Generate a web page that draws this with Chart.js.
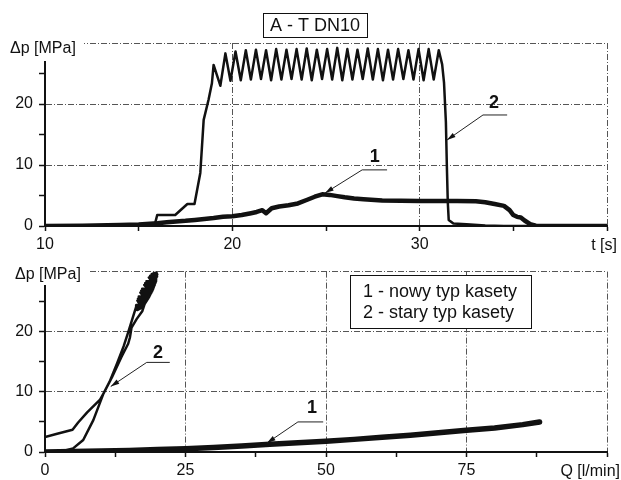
<!DOCTYPE html>
<html>
<head>
<meta charset="utf-8">
<script src="https://cdn.jsdelivr.net/npm/chart.js@4.4.1/dist/chart.umd.min.js"></script>
<style>
  html, body { margin: 0; padding: 0; background: #fff; }
  #wrap { position: relative; width: 621px; height: 480px; }
  canvas { position: absolute; left: 0; }
  #chart-top { top: 0; }
  #chart-bottom { top: 256px; }
</style>
</head>
<body>
<div id="wrap">
  <canvas id="chart-top" width="621" height="256"></canvas>
  <canvas id="chart-bottom" width="621" height="224"></canvas>
</div>
<script>
// top: pressure drop vs time
const TOP_T_RANGE = [10, 40];
const TOP_P_RANGE = [0, 30];

// 1 - nowy typ kasety
const TOP1_T = [10, 12, 14, 15, 16, 16.5, 17, 17.5, 18, 18.5, 19, 19.5, 20, 20.5, 21, 21.3, 21.6, 21.8, 21.95, 22.1, 22.5, 23, 23.5, 24, 24.4, 24.8, 25.2, 25.6, 26, 26.5, 27, 28, 29, 30, 31, 32, 33, 33.5, 34, 34.5, 34.8, 35.0, 35.2, 35.4, 35.6, 35.9, 36.2, 36.6, 40];
const TOP1_P = [0, 0.05, 0.15, 0.25, 0.45, 0.6, 0.75, 0.85, 1.0, 1.15, 1.3, 1.5, 1.6, 1.8, 2.1, 2.3, 2.6, 2.1, 2.5, 2.9, 3.2, 3.4, 3.7, 4.3, 4.8, 5.2, 5.1, 4.9, 4.7, 4.5, 4.4, 4.2, 4.15, 4.1, 4.1, 4.1, 4.05, 3.9, 3.6, 3.3, 2.6, 1.8, 1.5, 1.4, 0.9, 0.3, 0.05, 0, 0];

// 2 - stary typ kasety
const TOP2_T = [10, 15.85, 15.99, 16.95, 17.6, 17.98, 18.29, 18.47, 18.73, 18.91, 19.0, 19.36,
  19.63, 19.90, 20.17, 20.45, 20.72, 20.99, 21.26, 21.53, 21.80, 22.07, 22.34, 22.62, 22.89, 23.16,
  23.43, 23.70, 23.97, 24.24, 24.51, 24.79, 25.06, 25.33, 25.60, 25.87, 26.14, 26.41, 26.68, 26.96,
  27.23, 27.50, 27.77, 28.04, 28.31, 28.58, 28.85, 29.13, 29.40, 29.67, 29.94, 30.21, 30.48, 30.75,
  31.02, 31.2, 31.3, 31.4, 31.45, 31.5, 31.55, 31.8, 32.5, 33.5, 34.5, 40];
const TOP2_P = [0, 0.1, 1.8, 1.8, 3.6, 3.6, 8.7, 17.4, 20.7, 23.4, 26.4, 23.0,
  28.3, 23.8, 28.6, 23.9, 28.8, 24.0, 28.9, 24.1, 28.8, 23.9, 29.0, 24.0, 28.9, 24.1,
  29.0, 24.0, 29.1, 23.9, 28.9, 24.1, 29.0, 24.0, 29.2, 23.9, 29.0, 24.0, 28.9, 24.1,
  29.1, 24.0, 29.0, 23.9, 28.9, 24.0, 29.0, 24.1, 28.8, 24.0, 29.0, 23.9, 29.0, 24.0,
  28.8, 26.5, 23.5, 17, 10, 4, 1.0, 0.4, 0.3, 0.1, 0, 0];

// bottom: pressure drop vs flow
const BOT_Q_RANGE = [0, 100];
const BOT_P_RANGE = [0, 30];

const BOT1_Q = [0, 5, 10, 15, 20, 25, 30, 35, 40, 45, 50, 55, 60, 65, 70, 75, 80, 85, 88];
const BOT1_P = [0, 0.08, 0.15, 0.25, 0.4, 0.55, 0.75, 1.0, 1.3, 1.55, 1.8, 2.1, 2.45, 2.8, 3.2, 3.6, 4.0, 4.55, 5.0];

// rising branch, dense hysteresis loops near full pressure, falling branch
const BOT2_Q = [0, 2, 4.9, 5.9, 7.5, 9.8, 10.4, 11.5, 12.8, 14.0, 14.8, 15.7, 16.3,
  16.22, 17.48, 16.56, 18.35, 17.13, 19.07, 17.85, 19.64, 18.72, 19.98, 19.8,
  18.98, 19.76, 18.05, 19.22, 17.3, 18.54, 16.69, 17.72, 16.26, 16.4,
  17.22, 16.44, 18.15, 16.98, 18.9, 17.66, 19.51, 18.48, 19.94, 19.8,
  19.76, 19.22, 18.54, 17.72,
  17.3, 16.3, 15.4, 15.1, 14.8, 13.6, 11.9, 10.4, 8.6, 6.8, 5.0, 2.7, 0];
const BOT2_P = [2.5, 3.0, 3.7, 4.9, 6.6, 8.7, 9.7, 11.7, 14.7, 17.6, 19.9, 22.6, 24.4,
  24.08, 24.30, 25.51, 25.50, 26.84, 26.76, 28.10, 28.09, 29.30, 29.52, 29.9,
  29.58, 28.43, 28.41, 27.09, 27.16, 25.81, 25.85, 24.59, 24.46, 23.6,
  24.02, 25.17, 25.19, 26.51, 26.44, 27.79, 27.75, 29.01, 29.14, 29.9,
  28.43, 27.09, 25.81, 24.59,
  23.4, 22.1, 20.7, 19.0, 18.0, 15.8, 12.4, 9.7, 5.3, 2.0, 0.6, 0.05, 0];

const FONT = '"Liberation Sans", Arial, Helvetica, sans-serif';

const pts = (xs, ys) => xs.map((x, i) => ({ x, y: ys[i] }));

function lineSet(xs, ys, width) {
  return {
    data: pts(xs, ys),
    showLine: true,
    borderColor: "#111",
    borderWidth: width,
    pointRadius: 0,
    tension: 0,
    borderJoinStyle: "round",
    borderCapStyle: "round",
  };
}

function axes(xRange, yRange, majorX, xAxisH, unitTick) {
  return {
    x: {
      type: "linear", min: xRange[0], max: xRange[1],
      afterFit: (s) => { s.height = xAxisH; },
      ticks: {
        stepSize: majorX / 2, autoSkip: false, color: "#111", padding: 4, maxRotation: 0,
        font: { family: FONT, size: 16 },
        callback: (v) => (v % majorX === 0 && v !== unitTick ? v : ""),
      },
      grid: {
        color: (c) => (c.tick && c.tick.value % majorX === 0 ? "#555" : "rgba(0,0,0,0)"),
        lineWidth: 1, tickColor: "#111", tickLength: 5, tickWidth: 1.5,
      },
      border: { color: "#111", width: 2, dash: [6, 2, 1, 2] },
    },
    y: {
      type: "linear", min: yRange[0], max: yRange[1],
      afterFit: (s) => { s.width = 45; },
      ticks: {
        stepSize: 5, autoSkip: false, color: "#111", padding: 6,
        font: { family: FONT, size: 16 },
        callback: (v) => (v % 10 === 0 && v !== yRange[1] ? v : ""),
      },
      grid: {
        color: (c) => (c.tick && c.tick.value % 10 === 0 ? "#555" : "rgba(0,0,0,0)"),
        lineWidth: 1, tickColor: "#111", tickLength: 6, tickWidth: 1.5,
      },
      border: { color: "#111", width: 2, dash: [6, 2, 1, 2] },
    },
  };
}

function drawCallout(chart, c) {
  const { x, y } = chart.scales;
  const ctx = chart.ctx;
  const lx = x.getPixelForValue(c.from), lx2 = x.getPixelForValue(c.to), ly = y.getPixelForValue(c.at);
  const tx = x.getPixelForValue(c.tipX), ty = y.getPixelForValue(c.tipY);
  ctx.save();
  ctx.strokeStyle = "#222";
  ctx.fillStyle = "#111";
  ctx.lineWidth = 1;
  ctx.beginPath();
  ctx.moveTo(lx2, ly); ctx.lineTo(lx, ly); ctx.lineTo(tx, ty);
  ctx.stroke();
  const ang = Math.atan2(ty - ly, tx - lx);
  ctx.beginPath();
  ctx.moveTo(tx, ty);
  ctx.lineTo(tx - 9 * Math.cos(ang - 0.28), ty - 9 * Math.sin(ang - 0.28));
  ctx.lineTo(tx - 9 * Math.cos(ang + 0.28), ty - 9 * Math.sin(ang + 0.28));
  ctx.closePath();
  ctx.fill();
  ctx.font = "bold 18px " + FONT;
  ctx.textAlign = "center";
  ctx.textBaseline = "middle";
  ctx.fillText(c.text, x.getPixelForValue(c.textX), y.getPixelForValue(c.textY));
  ctx.restore();
}

// extras drawn on top: axis caption, unit label, callouts, boxes
const extras = {
  id: "extras",
  afterDraw(chart) {
    const o = chart.options.plugins.extras;
    const ctx = chart.ctx;
    ctx.save();
    ctx.fillStyle = "#fff";
    ctx.fillRect(0, 0, o.mask[0], o.mask[1]);
    ctx.fillStyle = "#111";
    ctx.font = "16px " + FONT;
    ctx.textBaseline = "middle";
    ctx.textAlign = "left";
    ctx.fillText("\u0394p [MPa]", o.yCap[0], o.yCap[1]);
    ctx.textAlign = "right";
    ctx.fillText(o.unit, o.unitPos[0], o.unitPos[1]);
    if (o.box) {
      const b = o.box;
      ctx.fillStyle = "#fff";
      ctx.fillRect(b.x, b.y, b.w, b.h);
      ctx.strokeStyle = "#111";
      ctx.lineWidth = 1;
      ctx.strokeRect(b.x + 0.5, b.y + 0.5, b.w, b.h);
      ctx.fillStyle = "#111";
      ctx.font = "18px " + FONT;
      ctx.textAlign = b.align;
      b.lines.forEach((t, i) => ctx.fillText(t, b.tx, b.ty + i * b.lh));
    }
    ctx.restore();
    o.callouts.forEach((c) => drawCallout(chart, c));
  },
};

new Chart(document.getElementById("chart-top"), {
  type: "scatter",
  data: { datasets: [lineSet(TOP1_T, TOP1_P, 4.5), lineSet(TOP2_T, TOP2_P, 2.5)] },
  options: {
    responsive: false, animation: false, devicePixelRatio: 1,
    layout: { padding: { top: 43, right: 14, left: 0, bottom: 0 } },
    scales: axes(TOP_T_RANGE, TOP_P_RANGE, 10, 30, 40),
    plugins: {
      legend: { display: false }, tooltip: { enabled: false },
      extras: {
        mask: [84, 61], yCap: [10, 49], unit: "t [s]", unitPos: [617, 246],
        box: { x: 263, y: 13, w: 104, h: 24, lines: ["A - T DN10"], tx: 315, ty: 26, lh: 0, align: "center" },
        callouts: [
          { text: "1", textX: 27.6, textY: 11.3, from: 26.93, to: 28.26, at: 9.2, tipX: 24.95, tipY: 5.4 },
          { text: "2", textX: 33.97, textY: 20.2, from: 33.38, to: 34.67, at: 18.2, tipX: 31.46, tipY: 14.1 },
        ],
      },
    },
  },
  plugins: [extras],
});

new Chart(document.getElementById("chart-bottom"), {
  type: "scatter",
  data: { datasets: [lineSet(BOT1_Q, BOT1_P, 5.5), lineSet(BOT2_Q, BOT2_P, 2.5)] },
  options: {
    responsive: false, animation: false, devicePixelRatio: 1,
    layout: { padding: { top: 15, right: 14, left: 0, bottom: 0 } },
    scales: axes(BOT_Q_RANGE, BOT_P_RANGE, 25, 28, 100),
    plugins: {
      legend: { display: false }, tooltip: { enabled: false },
      extras: {
        mask: [88, 29], yCap: [15, 19], unit: "Q [l/min]", unitPos: [620, 216],
        box: { x: 350, y: 19, w: 181, h: 53, lines: ["1 - nowy typ kasety", "2 - stary typ kasety"], tx: 363, ty: 36, lh: 21, align: "left" },
        callouts: [
          { text: "2", textX: 20.1, textY: 16.5, from: 18.1, to: 22.2, at: 14.9, tipX: 11.7, tipY: 10.9 },
          { text: "1", textX: 47.5, textY: 7.3, from: 45, to: 49.5, at: 5.0, tipX: 39.5, tipY: 1.5 },
        ],
      },
    },
  },
  plugins: [extras],
});
</script>
</body>
</html>
